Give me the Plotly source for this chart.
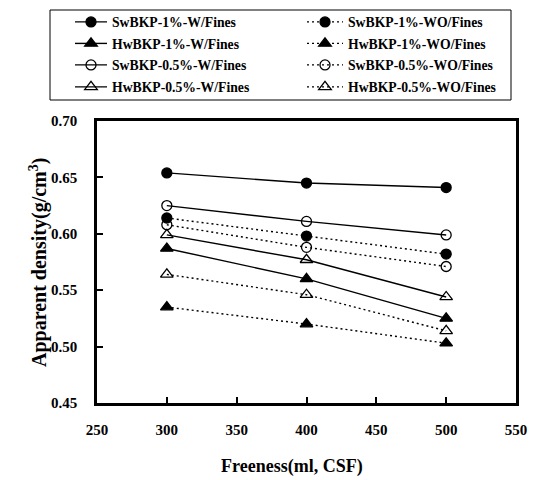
import plotly.graph_objects as go

# Freeness levels (ml, CSF)
freeness = [300, 400, 500]

# Apparent density (g/cm^3) for each furnish
sw1_w = [0.654, 0.645, 0.641]
hw1_w = [0.587, 0.560, 0.525]
sw05_w = [0.625, 0.611, 0.599]
hw05_w = [0.599, 0.577, 0.544]

sw1_wo = [0.614, 0.598, 0.582]
hw1_wo = [0.535, 0.520, 0.503]
sw05_wo = [0.608, 0.588, 0.571]
hw05_wo = [0.564, 0.546, 0.514]

with_fines = [
    ("SwBKP-1%-W/Fines", sw1_w, "circle"),
    ("HwBKP-1%-W/Fines", hw1_w, "triangle-up"),
    ("SwBKP-0.5%-W/Fines", sw05_w, "circle-open"),
    ("HwBKP-0.5%-W/Fines", hw05_w, "triangle-up-open"),
]
without_fines = [
    ("SwBKP-1%-WO/Fines", sw1_wo, "circle"),
    ("HwBKP-1%-WO/Fines", hw1_wo, "triangle-up"),
    ("SwBKP-0.5%-WO/Fines", sw05_wo, "circle-open"),
    ("HwBKP-0.5%-WO/Fines", hw05_wo, "triangle-up-open"),
]

FONT = "Liberation Serif"
W, H = 539, 480
L, R, T, B = 97, 23, 121, 77
PW, PH = W - L - R, H - T - B

# legend layout: one entry per row, two columns (with / without fines)
ROW_Y = [22, 43.5, 65, 87]
COL_X = [70, 302]
COL_ITEMWIDTH = [32, 36]

fig = go.Figure()
legends = {}


def add_series(name, values, symbol, dash, col, row):
    key = "legend" if not legends else f"legend{len(legends) + 1}"
    legends[key] = dict(
        x=COL_X[col] / W, y=1 - ROW_Y[row] / H,
        xref="container", yref="container",
        xanchor="left", yanchor="middle",
        itemwidth=COL_ITEMWIDTH[col],
        font=dict(family=FONT, size=13.7, color="black", weight="bold"),
        bgcolor="rgba(0,0,0,0)", borderwidth=0,
    )
    size = 11 if symbol.startswith("triangle") else 10
    fig.add_trace(go.Scatter(
        x=freeness, y=values, name=name, mode="lines+markers",
        line=dict(color="black", width=1.4, dash=dash),
        marker=dict(symbol=symbol, size=size, color="black",
                    line=dict(color="black", width=1.3)),
        legend=key,
    ))


for row, (name, vals, sym) in enumerate(with_fines):
    add_series(name, vals, sym, "solid", 0, row)
for row, (name, vals, sym) in enumerate(without_fines):
    add_series(name, vals, sym, "2px,3px", 1, row)

axis_font = dict(family=FONT, size=15, color="black", weight="bold")
title_font = dict(family=FONT, size=18, color="black", weight="bold")

fig.update_layout(
    width=W, height=H,
    margin=dict(l=L, r=R, t=T, b=B, autoexpand=False),
    paper_bgcolor="white", plot_bgcolor="white",
    font=dict(family=FONT, color="black"),
    showlegend=True,
    **legends,
    xaxis=dict(
        range=[250, 550], dtick=50, tick0=250,
        ticks="inside", ticklen=6, tickwidth=2, tickcolor="black",
        ticklabelstandoff=11,
        showgrid=False, zeroline=False,
        showline=True, linewidth=2.5, linecolor="black", mirror=True,
        tickfont=axis_font,
    ),
    yaxis=dict(
        range=[0.45, 0.70], dtick=0.05, tickformat=".2f",
        ticks="inside", ticklen=6, tickwidth=2, tickcolor="black",
        ticklabelstandoff=14,
        showgrid=False, zeroline=False,
        showline=True, linewidth=2.5, linecolor="black", mirror=True,
        tickfont=axis_font,
    ),
    annotations=[
        dict(
            text="Apparent density(g/cm<sup>3</sup>)",
            xref="paper", yref="paper", x=(38 - L) / PW, y=(H - B - 263) / PH,
            xanchor="center", yanchor="middle", textangle=-90,
            showarrow=False,
            font=dict(family=FONT, size=20, color="black", weight="bold"),
        ),
        dict(
            text="Freeness(ml, CSF)",
            xref="paper", yref="paper", x=(292 - L) / PW, y=-(467 - (H - B)) / PH,
            xanchor="center", yanchor="middle",
            showarrow=False, font=title_font,
        ),
    ],
)

# Frame drawn around both legend columns
fig.add_shape(
    type="rect", xref="paper", yref="paper",
    x0=(50 - L) / PW, x1=(511 - L) / PW,
    y0=(H - B - 100) / PH, y1=(H - B - 10) / PH,
    line=dict(color="black", width=1), fillcolor="rgba(0,0,0,0)",
)

fig.write_html("out.html")
